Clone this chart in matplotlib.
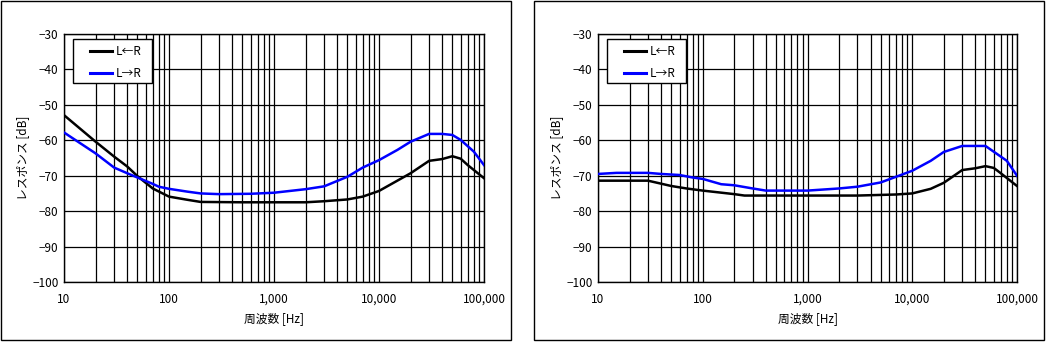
import matplotlib
matplotlib.use("Agg")
import matplotlib.pyplot as plt
from matplotlib.patches import Rectangle
from matplotlib.ticker import FixedLocator, FuncFormatter, NullFormatter, LogLocator

plt.rcParams['font.family'] = ['Noto Sans CJK JP', 'DejaVu Sans']

# Left panel data
left_lr_freq = [10, 20, 30, 40, 50, 70, 100, 150, 200, 500, 1000, 2000, 3000, 5000, 7000,
                10000, 20000, 30000, 40000, 50000, 60000, 70000, 100000]
left_lr_db = [-52.9, -60.4, -64.6, -67.4, -70.1, -73.6, -75.9, -76.8, -77.4, -77.5, -77.5, -77.5,
              -77.2, -76.7, -75.9, -74.3, -69.3, -65.8, -65.3, -64.5, -65.2, -67.0, -70.7]
left_rl_freq = [10, 20, 30, 40, 50, 70, 80, 100, 150, 200, 300, 600, 1000, 2000, 3000, 5000, 7000,
                10000, 15000, 20000, 30000, 40000, 50000, 60000, 80000, 100000]
left_rl_db = [-57.8, -63.7, -67.7, -69.3, -70.5, -72.3, -73.1, -73.7, -74.5, -75.0, -75.2, -75.1,
              -74.8, -73.8, -73.0, -70.3, -67.7, -65.6, -62.7, -60.4, -58.2, -58.2, -58.5, -59.9,
              -63.2, -67.0]

# Right panel data
right_lr_freq = [10, 30, 50, 70, 100, 200, 250, 3000, 7000, 10000, 15000, 20000, 30000, 40000,
                 50000, 60000, 70000, 100000]
right_lr_db = [-71.4, -71.4, -72.9, -73.6, -74.2, -75.2, -75.6, -75.6, -75.3, -75.0, -73.7, -72.0,
               -68.4, -67.9, -67.3, -67.8, -69.3, -72.9]
right_rl_freq = [10, 15, 30, 40, 60, 80, 100, 150, 200, 300, 400, 1000, 2000, 3000, 5000, 7000,
                 10000, 15000, 20000, 30000, 50000, 70000, 80000, 100000]
right_rl_db = [-69.5, -69.2, -69.2, -69.5, -69.8, -70.5, -70.9, -72.4, -72.7, -73.6, -74.2, -74.2,
               -73.6, -73.1, -71.9, -70.3, -68.6, -65.8, -63.3, -61.6, -61.6, -64.6, -65.8, -70.0]

series_labels = ['L\u2190R', 'L\u2192R']
series_colors = ['#000000', '#0000FF']
x_ticks = [10, 100, 1000, 10000, 100000]
y_ticks = [-30, -40, -50, -60, -70, -80, -90, -100]
x_label = '周波数 [Hz]'
y_label = 'レスポンス [dB]'

W, H = 1061, 354
fig = plt.figure(figsize=(W / 100, H / 100), dpi=100)
fig.patch.set_facecolor('white')

# panel frames
for (x0, x1) in [(0.5, 511), (534, 1043.5)]:
    fig.add_artist(Rectangle((x0 / W, 1 - 340 / H), (x1 - x0) / W, (340 - 0.5) / H,
                             transform=fig.transFigure, fill=False, edgecolor='black',
                             linewidth=1.0))

panels = [
    (64, 484, [(left_lr_freq, left_lr_db), (left_rl_freq, left_rl_db)]),
    (598, 1017, [(right_lr_freq, right_lr_db), (right_rl_freq, right_rl_db)]),
]

AX_TOP, AX_BOT = 34, 282
for (px0, px1, data) in panels:
    aw, ah = px1 - px0, AX_BOT - AX_TOP
    ax = fig.add_axes([px0 / W, 1 - AX_BOT / H, aw / W, ah / H])
    for (f, d), lab, col in zip(data, series_labels, series_colors):
        ax.plot(f, d, color=col, linewidth=1.8, label=lab, zorder=3)
    ax.set_xscale('log')
    ax.set_xlim(10, 100000)
    ax.set_ylim(-100, -30)
    ax.xaxis.set_major_locator(FixedLocator(x_ticks))
    ax.xaxis.set_minor_locator(LogLocator(base=10, subs=range(2, 10)))
    ax.xaxis.set_minor_formatter(NullFormatter())
    ax.xaxis.set_major_formatter(FuncFormatter(lambda v, p: f'{int(round(v)):,}'))
    ax.yaxis.set_major_locator(FixedLocator(y_ticks))
    ax.grid(True, which='major', color='black', linewidth=0.9)
    ax.grid(True, which='minor', axis='x', color='black', linewidth=0.9)
    ax.tick_params(which='both', length=0, labelsize=8.5, colors='black')
    ax.tick_params(axis='x', pad=8)
    ax.tick_params(axis='y', pad=4)
    for s in ax.spines.values():
        s.set_color('black')
        s.set_linewidth(1.0)
    ax.set_xlabel(x_label, fontsize=8.5, labelpad=4)
    ax.set_ylabel(y_label, fontsize=8.5, labelpad=2)

    # legend frame box
    box = Rectangle((9 / aw, 1 - 49 / ah), 79 / aw, 44 / ah, transform=ax.transAxes,
                    facecolor='white', edgecolor='black', linewidth=1.0, zorder=4)
    ax.add_patch(box)
    leg = ax.legend(loc='upper left', bbox_to_anchor=(26 / aw, 1 - 11 / ah), frameon=False,
                    fontsize=8.5, handlelength=1.9, handletextpad=0.3, borderpad=0,
                    labelspacing=0.75, borderaxespad=0)
    leg.set_zorder(5)
    for line in leg.get_lines():
        line.set_linewidth(2.2)

fig.savefig('out.png', dpi=100, facecolor='white')
